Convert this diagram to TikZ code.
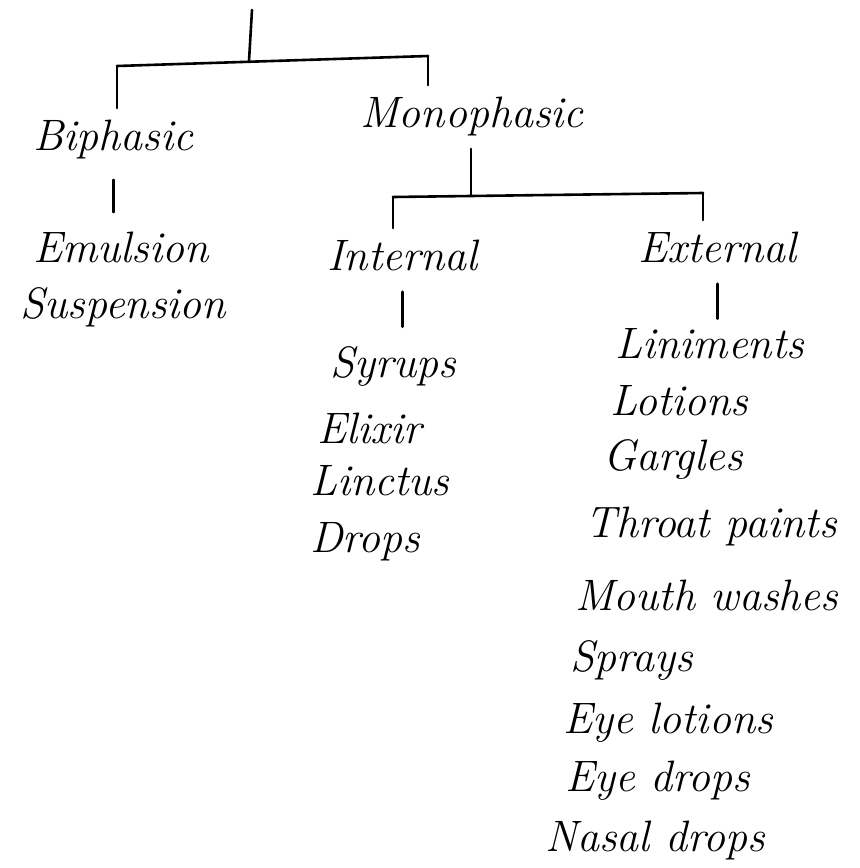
\documentclass[tikz,border=0pt]{standalone}

\begin{document}
\begin{tikzpicture}[x=0.5pt,y=-0.5pt,line width=1.3pt,line cap=round,
    every node/.style={anchor=base west,inner sep=2pt,font=\fontsize{22}{26}\selectfont\itshape},
    tick/.style={shorten >=3pt},
    stem/.style={shorten <=8pt,shorten >=7pt}]
   \useasboundingbox (0,0) rectangle (859,868);
 %% first level
   \node (biph) at (28,150) {Biphasic};
   \node (mono) at (355,127) {Monophasic};
   \node (emul) at (28,262) {Emulsion};
   \node (susp) at (15,318) {Suspension};
 %% second level
   \node (intl) at (322,270) {Internal};
   \node (extl) at (633,262) {External};
 \foreach \Point/\Name/\Label in {(325,377)/syr/Syrups, (312,443)/eli/Elixir,
        (305,495)/lin/Linctus, (305,552)/dro/Drops}
        \node (\Name) at \Point {\Label};
 \foreach \Point/\Name/\Label in {(610,358)/lini/Liniments, (605,415)/lot/Lotions,
        (598,470)/gar/Gargles, (580,537)/thr/Throat paints, (570,610)/mou/Mouth washes,
        (565,671)/spr/Sprays, (558,733)/eyl/Eye lotions, (560,791)/eyd/Eye drops,
        (540,851)/nas/Nasal drops}
        \node (\Name) at \Point {\Label};
 %% branches
   \coordinate (top) at (252,10);
   \coordinate (tj) at (249,61);
   \coordinate (barL) at (117,66);
   \coordinate (barR) at (428,56);
   \draw (top) -- (tj);
   \draw (barL) -- (barR);
   \draw[tick] (barL) -- (barL |- biph.north);
   \draw[tick] (barR) -- (barR |- mono.north);
   \draw[stem] (biph.south) -- (biph.south |- emul.north);
   \coordinate (mj) at (471,196);
   \coordinate (bar2L) at (393,197);
   \coordinate (bar2R) at (703,193);
   \draw[shorten <=4pt] (mj |- mono.south) -- (mj);
   \draw (bar2L) -- (bar2R);
   \draw[tick] (bar2L) -- (bar2L |- intl.north);
   \draw[tick] (bar2R) -- (bar2R |- extl.north);
   \draw[stem] (intl.south) -- (intl.south |- syr.north);
   \draw[stem,shorten >=2pt] (extl.south) -- (extl.south |- lini.north);
\end{tikzpicture}
\end{document}
